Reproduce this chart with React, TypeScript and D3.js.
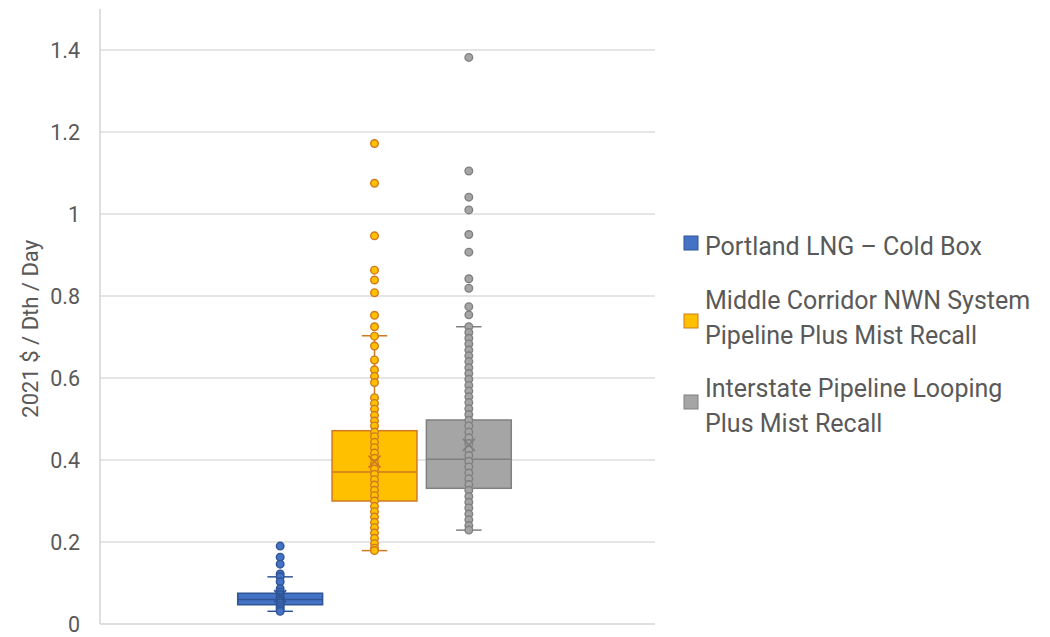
import React from "react";
import * as d3 from "d3";

const seriesNames = [
  "Portland LNG – Cold Box",
  "Middle Corridor NWN System Pipeline Plus Mist Recall",
  "Interstate Pipeline Looping Plus Mist Recall",
];
const legendLines = [
  ["Portland LNG – Cold Box"],
  ["Middle Corridor NWN System", "Pipeline Plus Mist Recall"],
  ["Interstate Pipeline Looping", "Plus Mist Recall"],
];
const fills = ["#4472C4", "#FFC000", "#A5A5A5"];
const strokes = ["#2F5597", "#D07A20", "#808080"];

const q1 = [0.047, 0.3, 0.331];
const median = [0.06, 0.371, 0.402];
const q3 = [0.075, 0.4715, 0.4976];
const whiskerLow = [0.031, 0.179, 0.229];
const whiskerHigh = [0.115, 0.703, 0.725];
const mean = [0.068, 0.396, 0.437];

const bluePoints = [
  0.19, 0.163, 0.146, 0.122, 0.115, 0.103, 0.086, 0.078, 0.072, 0.066, 0.061,
  0.056, 0.051, 0.046, 0.041, 0.036, 0.031,
];
const orangePoints = [
  1.172, 1.075, 0.947, 0.863, 0.839, 0.808, 0.753, 0.725, 0.702, 0.678, 0.644,
  0.62, 0.604, 0.589, 0.552, 0.538, 0.524, 0.509, 0.495, 0.483, 0.468, 0.457,
  0.443, 0.43, 0.417, 0.404, 0.391, 0.378, 0.365, 0.352, 0.339, 0.326, 0.313,
  0.3, 0.287, 0.274, 0.261, 0.248, 0.235, 0.222, 0.209, 0.196, 0.185, 0.179,
];
const grayPoints = [
  1.382, 1.105, 1.041, 1.01, 0.95, 0.907, 0.842, 0.819, 0.774, 0.754, 0.725,
  0.711, 0.697, 0.683, 0.668, 0.654, 0.64, 0.625, 0.611, 0.597, 0.582, 0.568,
  0.554, 0.54, 0.525, 0.511, 0.497, 0.483, 0.468, 0.454, 0.44, 0.425, 0.411,
  0.397, 0.383, 0.368, 0.354, 0.34, 0.326, 0.311, 0.297, 0.283, 0.268, 0.254,
  0.24, 0.229,
];
const points = [bluePoints, orangePoints, grayPoints];

const yTicks = [0, 0.2, 0.4, 0.6, 0.8, 1, 1.2, 1.4];
const yTitle = "2021 $ / Dth / Day";

export default function App() {
  const W = 1050;
  const H = 637;
  const plotLeft = 100;
  const plotRight = 655;
  const y = d3.scaleLinear().domain([0, 1.5]).range([624, 9]);
  const x = d3
    .scaleBand<string>()
    .domain(seriesNames)
    .range([233, 516])
    .paddingInner(0.1)
    .paddingOuter(0.05);
  const bw = x.bandwidth();
  const font = "Roboto, 'Open Sans', sans-serif";

  return (
    <svg
      width={W}
      height={H}
      style={{ position: "absolute", left: 0, top: 0, background: "#fff" }}
      fontFamily={font}
    >
      {yTicks.map((t) =>
        t === 0 ? null : (
          <line
            key={"g" + t}
            x1={plotLeft}
            x2={plotRight}
            y1={y(t)}
            y2={y(t)}
            stroke="#DCDCDC"
            strokeWidth={1.5}
          />
        )
      )}
      <line x1={plotLeft} x2={plotLeft} y1={y(1.5)} y2={y(0)} stroke="#D4D4D4" strokeWidth={1.5} />
      <line x1={plotLeft} x2={plotRight} y1={y(0)} y2={y(0)} stroke="#D4D4D4" strokeWidth={1.5} />
      {yTicks.map((t) => (
        <text
          key={"t" + t}
          x={80}
          y={y(t)}
          dy="0.36em"
          textAnchor="end"
          fontSize={21.5}
          fill="#595959"
        >
          {d3.format("~g")(t)}
        </text>
      ))}
      <text
        transform={`translate(38,${y(0.72)}) rotate(-90)`}
        textAnchor="middle"
        fontSize={22}
        fill="#595959"
      >
        {yTitle}
      </text>

      {seriesNames.map((s, i) => {
        const x0 = x(s) as number;
        const cx = x0 + bw / 2;
        const capW = bw * 0.3;
        const st = strokes[i];
        const m = 6;
        return (
          <g key={s}>
            <line x1={cx} x2={cx} y1={y(whiskerHigh[i])} y2={y(q3[i])} stroke={st} strokeWidth={1.5} />
            <line x1={cx} x2={cx} y1={y(q1[i])} y2={y(whiskerLow[i])} stroke={st} strokeWidth={1.5} />
            <line x1={cx - capW / 2} x2={cx + capW / 2} y1={y(whiskerHigh[i])} y2={y(whiskerHigh[i])} stroke={st} strokeWidth={1.5} />
            <line x1={cx - capW / 2} x2={cx + capW / 2} y1={y(whiskerLow[i])} y2={y(whiskerLow[i])} stroke={st} strokeWidth={1.5} />
            <rect
              x={x0}
              y={y(q3[i])}
              width={bw}
              height={y(q1[i]) - y(q3[i])}
              fill={fills[i]}
              stroke={st}
              strokeWidth={1.5}
            />
            <line x1={x0} x2={x0 + bw} y1={y(median[i])} y2={y(median[i])} stroke={st} strokeWidth={1.5} />
            {points[i].map((v, k) => (
              <circle
                key={k}
                cx={cx}
                cy={y(v)}
                r={3.8}
                fill={fills[i]}
                stroke={st}
                strokeWidth={1.4}
              />
            ))}
            <path
              d={`M${cx - m},${y(mean[i]) - m}L${cx + m},${y(mean[i]) + m}M${cx + m},${y(mean[i]) - m}L${cx - m},${y(mean[i]) + m}`}
              stroke={st}
              strokeWidth={1.8}
              fill="none"
            />
          </g>
        );
      })}

      {legendLines.map((lines, i) => {
        const baseY = [255, 309, 397][i];
        const sqY = [236, 314, 395][i];
        return (
          <g key={"l" + i}>
            <rect x={684} y={sqY} width={14} height={14} fill={fills[i]} stroke={strokes[i]} strokeWidth={1} />
            {lines.map((ln, k) => (
              <text key={k} x={705} y={baseY + k * 35} fontSize={25} fill="#595959">
                {ln}
              </text>
            ))}
          </g>
        );
      })}
    </svg>
  );
}
